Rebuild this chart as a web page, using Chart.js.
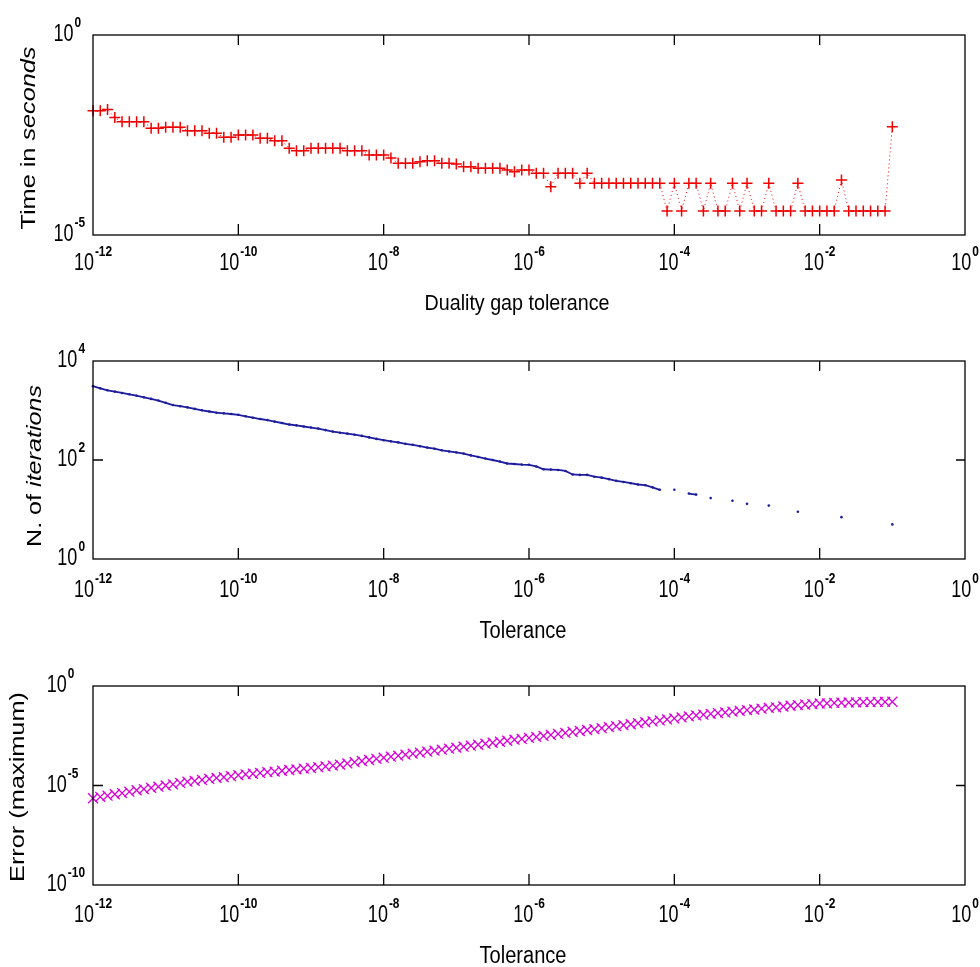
<!DOCTYPE html>
<html>
<head>
<meta charset="utf-8">
<script src="https://cdn.jsdelivr.net/npm/chart.js@4/dist/chart.umd.min.js"></script>
<style>
  body { margin: 0; background: #fff; }
  canvas { position: absolute; left: 0; }
</style>
</head>
<body>
<canvas id="timeChart" width="980" height="320" style="top:0px"></canvas>
<canvas id="iterChart" width="980" height="325" style="top:320px"></canvas>
<canvas id="errChart" width="980" height="322" style="top:645px"></canvas>
<script>
// tolerance grid, as log10 exponents
const tolExp = [
  -12.0, -11.9, -11.8, -11.7, -11.6, -11.5, -11.4, -11.3, -11.2, -11.1,
  -11.0, -10.9, -10.8, -10.7, -10.6, -10.5, -10.4, -10.3, -10.2, -10.1,
  -10.0, -9.9, -9.8, -9.7, -9.6, -9.5, -9.4, -9.3, -9.2, -9.1,
  -9.0, -8.9, -8.8, -8.7, -8.6, -8.5, -8.4, -8.3, -8.2, -8.1,
  -8.0, -7.9, -7.8, -7.7, -7.6, -7.5, -7.4, -7.3, -7.2, -7.1,
  -7.0, -6.9, -6.8, -6.7, -6.6, -6.5, -6.4, -6.3, -6.2, -6.1,
  -6.0, -5.9, -5.8, -5.7, -5.6, -5.5, -5.4, -5.3, -5.2, -5.1,
  -5.0, -4.9, -4.8, -4.7, -4.6, -4.5, -4.4, -4.3, -4.2, -4.1,
  -4.0, -3.9, -3.8, -3.7, -3.6, -3.5, -3.4, -3.3, -3.2, -3.1,
  -3.0, -2.9, -2.8, -2.7, -2.6, -2.5, -2.4, -2.3, -2.2, -2.1,
  -2.0, -1.9, -1.8, -1.7, -1.6, -1.5, -1.4, -1.3, -1.2, -1.1,
  -1.0
];

// time in seconds
const timeSec = [
  0.0128, 0.0128, 0.0137, 0.0086, 0.0068, 0.0068, 0.0068, 0.0068, 0.00465, 0.00465,
  0.00493, 0.00493, 0.00493, 0.00405, 0.00405, 0.00405, 0.00349, 0.00349, 0.00277, 0.00277,
  0.00316, 0.00316, 0.00316, 0.00262, 0.00262, 0.00228, 0.00228, 0.00147, 0.00128, 0.00128,
  0.00147, 0.00147, 0.00147, 0.00147, 0.00147, 0.00128, 0.00128, 0.00128, 0.00100, 0.00100,
  0.00100, 0.00084, 0.00062, 0.00062, 0.00062, 0.00068, 0.00072, 0.00072, 0.00062, 0.00062,
  0.000596, 0.00051, 0.00051, 0.000465, 0.000465, 0.000465, 0.000465, 0.000422, 0.000382, 0.000422,
  0.000422, 0.000349, 0.000349, 0.000161, 0.000349, 0.000349, 0.000349, 0.000196, 0.000349, 0.000196,
  0.000196, 0.000196, 0.000196, 0.000196, 0.000196, 0.000196, 0.000196, 0.000196, 0.000196, 0.00004,
  0.000196, 0.00004, 0.000196, 0.000196, 0.00004, 0.000196, 0.00004, 0.00004, 0.000196, 0.00004,
  0.000196, 0.00004, 0.00004, 0.000196, 0.00004, 0.00004, 0.00004, 0.000196, 0.00004, 0.00004,
  0.00004, 0.00004, 0.00004, 0.000237, 0.00004, 0.00004, 0.00004, 0.00004, 0.00004, 0.00004,
  0.0051
];

// number of iterations (null = nothing drawn there)
const iterCount = [
  3100, 2800, 2560, 2410, 2260, 2125, 1990, 1850, 1715, 1590,
  1430, 1290, 1220, 1155, 1077, 1009, 955, 903, 876, 849,
  818, 765, 716, 673, 640, 597, 559, 521, 500, 475,
  452, 431, 402, 375, 356, 341, 324, 307, 286, 267,
  251, 238, 227, 212, 203, 190, 178, 169, 157, 149,
  142, 135, 124, 115, 107, 100, 93, 85, 83, 81,
  80, 74, 65, 64, 63, 60, 51, 50, 50, 46,
  44, 41, 38, 36, 34, 32, 31, 28, 25, null,
  25, null, 21, 20, null, 17, null, null, 15, null,
  13, null, null, 12, null, null, null, 9, null, null,
  null, null, null, 7, null, null, null, null, null, null,
  5
];

// maximum error
const errMax = [
  2.29e-6, 2.69e-6, 3.09e-6, 3.63e-6, 4.17e-6, 4.90e-6, 5.75e-6, 6.61e-6, 7.59e-6, 8.71e-6,
  1.00e-5, 1.15e-5, 1.35e-5, 1.55e-5, 1.70e-5, 1.91e-5, 2.14e-5, 2.40e-5, 2.63e-5, 2.95e-5,
  3.31e-5, 3.63e-5, 3.89e-5, 4.27e-5, 4.68e-5, 5.01e-5, 5.50e-5, 6.03e-5, 6.46e-5, 7.08e-5,
  7.59e-5, 8.32e-5, 9.12e-5, 1.00e-4, 1.12e-4, 1.29e-4, 1.48e-4, 1.70e-4, 1.91e-4, 2.19e-4,
  2.51e-4, 2.82e-4, 3.16e-4, 3.55e-4, 3.98e-4, 4.47e-4, 5.01e-4, 5.62e-4, 6.31e-4, 7.08e-4,
  7.94e-4, 8.91e-4, 1.00e-3, 1.12e-3, 1.26e-3, 1.41e-3, 1.58e-3, 1.78e-3, 2.00e-3, 2.19e-3,
  2.45e-3, 2.75e-3, 3.09e-3, 3.47e-3, 3.89e-3, 4.37e-3, 4.90e-3, 5.50e-3, 6.17e-3, 6.76e-3,
  7.59e-3, 8.51e-3, 9.55e-3, 1.07e-2, 1.20e-2, 1.35e-2, 1.51e-2, 1.66e-2, 1.86e-2, 2.09e-2,
  2.34e-2, 2.63e-2, 2.95e-2, 3.31e-2, 3.63e-2, 3.98e-2, 4.37e-2, 4.68e-2, 5.13e-2, 5.62e-2,
  6.17e-2, 6.61e-2, 7.24e-2, 7.94e-2, 8.51e-2, 9.33e-2, 0.102, 0.110, 0.117, 0.123,
  0.132, 0.135, 0.141, 0.145, 0.148, 0.151, 0.155, 0.155, 0.158, 0.158,
  0.162
];

// tick exponents
const xTickExp = [-12, -10, -8, -6, -4, -2, 0];
const timeTickExp = [-5, 0];
const iterTickExp = [0, 2, 4];
const errTickExp = [-10, -5, 0];

const FONT = '"Liberation Sans", Arial, sans-serif';
const tolerance = tolExp.map(e => Math.pow(10, e));
const pts = ys => tolerance.map((x, i) => ({ x: x, y: ys[i] }));

function powParts(ctx, exp) {
  ctx.font = '24px ' + FONT;
  const wb = ctx.measureText('10').width * 0.75;
  ctx.font = 'bold 14px ' + FONT;
  const we = ctx.measureText(String(exp)).width * 0.85;
  return { wb: wb, we: we, w: wb + 1 + we };
}

function drawPow(ctx, exp, left, baseline) {
  const p = powParts(ctx, exp);
  ctx.save();
  ctx.translate(left, baseline);
  ctx.scale(0.75, 1);
  ctx.font = '24px ' + FONT;
  ctx.fillText('10', 0, 0);
  ctx.restore();
  ctx.save();
  ctx.translate(left + p.wb + 1, baseline - 14);
  ctx.scale(0.85, 1);
  ctx.font = 'bold 14px ' + FONT;
  ctx.fillText(String(exp), 0, 0);
  ctx.restore();
}

function drawTitle(ctx, parts, x, y, len, vertical) {
  ctx.save();
  let w = 0;
  parts.forEach(p => { ctx.font = p.font; w += ctx.measureText(p.text).width; });
  ctx.translate(x, y);
  if (vertical) ctx.rotate(-Math.PI / 2);
  ctx.scale(len / w, 1);
  let cx = -w / 2;
  parts.forEach(p => {
    ctx.font = p.font;
    ctx.fillText(p.text, cx, 0);
    cx += ctx.measureText(p.text).width;
  });
  ctx.restore();
}

function makeFrame(cfg) {
  return {
    id: 'frame',
    afterDraw(chart) {
      const ctx = chart.ctx;
      const a = chart.chartArea;
      const xs = chart.scales.x, ys = chart.scales.y;
      ctx.save();
      ctx.strokeStyle = '#000';
      ctx.fillStyle = '#000';
      ctx.lineWidth = 1.3;
      ctx.strokeRect(a.left, a.top, a.right - a.left, a.bottom - a.top);
      ctx.textAlign = 'left';
      ctx.textBaseline = 'alphabetic';

      xTickExp.forEach(e => {
        const px = xs.getPixelForValue(Math.pow(10, e));
        if (px > a.left + 1 && px < a.right - 1) {
          ctx.beginPath();
          ctx.moveTo(px, a.top); ctx.lineTo(px, a.top + 10);
          ctx.moveTo(px, a.bottom); ctx.lineTo(px, a.bottom - 11);
          ctx.stroke();
        }
        const p = powParts(ctx, e);
        drawPow(ctx, e, Math.min(px - p.w / 2, 979 - p.w), a.bottom + cfg.xLabelDy);
      });

      let maxW = 0;
      cfg.yTicks.forEach(e => { maxW = Math.max(maxW, powParts(ctx, e).w); });
      cfg.yTicks.forEach(e => {
        const py = ys.getPixelForValue(Math.pow(10, e));
        if (py > a.top + 1 && py < a.bottom - 1) {
          ctx.beginPath();
          ctx.moveTo(a.left, py); ctx.lineTo(a.left + 10, py);
          ctx.moveTo(a.right, py); ctx.lineTo(a.right - 9, py);
          ctx.stroke();
        }
        drawPow(ctx, e, 85 - maxW, py + 6);
      });

      const t = cfg.xTitle;
      drawTitle(ctx, t.parts, t.x, t.y, t.len, false);
      const v = cfg.yTitle;
      drawTitle(ctx, v.parts, v.x, v.y, v.len, true);
      ctx.restore();
    }
  };
}

function makeChart(id, datasets, yMin, yMax, padding, frameCfg) {
  return new Chart(document.getElementById(id), {
    type: 'line',
    data: { datasets: datasets },
    options: {
      responsive: false,
      animation: false,
      devicePixelRatio: 1,
      events: [],
      layout: { padding: padding },
      plugins: { legend: { display: false }, tooltip: { enabled: false } },
      scales: {
        x: { type: 'logarithmic', min: 1e-12, max: 1, display: false },
        y: { type: 'logarithmic', min: yMin, max: yMax, display: false }
      }
    },
    plugins: [makeFrame(frameCfg)]
  });
}

const RED = '#f00000';
const BLUE = '#1c1c9c';
const MAG = '#d800d8';

makeChart('timeChart', [{
  data: pts(timeSec),
  borderColor: RED,
  borderWidth: 1,
  borderDash: [1, 3],
  pointStyle: 'cross',
  pointRadius: 5.5,
  pointBorderWidth: 1.5,
  pointBorderColor: RED,
  clip: false
}], 1e-5, 1, { left: 93, right: 15, top: 35, bottom: 85 }, {
  yTicks: timeTickExp,
  xLabelDy: 35,
  xTitle: { parts: [{ text: 'Duality gap tolerance', font: '22px ' + FONT }], x: 517, y: 310, len: 185 },
  yTitle: { parts: [{ text: 'Time in ', font: '21px ' + FONT }, { text: 'seconds', font: 'italic 21px ' + FONT }], x: 35, y: 138, len: 183 }
});

// canvas-local coordinates below (canvas top at 320)
makeChart('iterChart', [{
  data: pts(iterCount),
  borderColor: BLUE,
  borderWidth: 1.8,
  spanGaps: false,
  pointRadius: 1.3,
  pointBorderWidth: 0,
  pointBackgroundColor: BLUE,
  clip: false
}], 1, 1e4, { left: 93, right: 15, top: 41, bottom: 86 }, {
  yTicks: iterTickExp,
  xLabelDy: 38,
  xTitle: { parts: [{ text: 'Tolerance', font: '23px ' + FONT }], x: 523, y: 318, len: 87 },
  yTitle: { parts: [{ text: 'N. of ', font: '21px ' + FONT }, { text: 'iterations', font: 'italic 21px ' + FONT }], x: 41, y: 146, len: 162 }
});

// canvas top at 645
makeChart('errChart', [{
  data: pts(errMax),
  showLine: false,
  pointStyle: 'crossRot',
  pointRadius: 7,
  pointBorderWidth: 1.3,
  pointBorderColor: MAG,
  clip: false
}], 1e-10, 1, { left: 93, right: 15, top: 41, bottom: 82 }, {
  yTicks: errTickExp,
  xLabelDy: 37,
  xTitle: { parts: [{ text: 'Tolerance', font: '23px ' + FONT }], x: 523, y: 318, len: 87 },
  yTitle: { parts: [{ text: 'Error (maximum)', font: '21px ' + FONT }], x: 24, y: 142, len: 190 }
});
</script>
</body>
</html>
